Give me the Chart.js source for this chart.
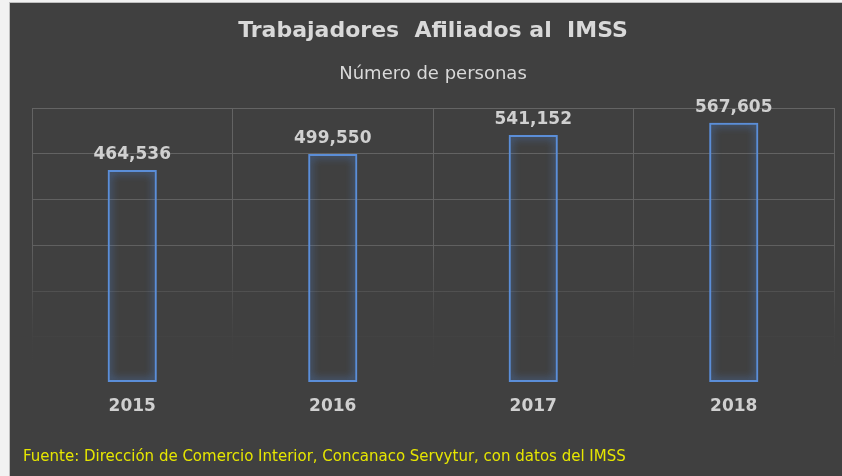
<!DOCTYPE html>
<html>
<head>
<meta charset="utf-8">
<script src="https://cdn.jsdelivr.net/npm/chart.js@4/dist/chart.umd.min.js"></script>
<style>
  html, body { margin: 0; padding: 0; background: #f2f2f2; }
  #wrap { width: 842px; height: 476px; }
</style>
</head>
<body>
<div id="wrap"><canvas id="afiliados"></canvas></div>
<script>
// Data
const years = ['2015', '2016', '2017', '2018'];
const workers = [464536, 499550, 541152, 567605];
const yTicks = [0, 100000, 200000, 300000, 400000, 500000, 600000];

const titleText = 'Trabajadores  Afiliados al  IMSS';
const subtitleText = 'Número de personas';
const sourceText = 'Fuente: Dirección de Comercio Interior, Concanaco Servytur, con datos del IMSS';

const labelFont = 'bold 17px "DejaVu Sans", Verdana, sans-serif';

// dark panel behind the chart, with the light strip on left/top
const panelBackground = {
    id: 'panelBackground',
    beforeDraw(chart) {
        const ctx = chart.ctx;
        ctx.save();
        ctx.fillStyle = '#f2f2f2';
        ctx.fillRect(0, 0, chart.width, chart.height);
        ctx.fillStyle = '#bfbfbf';
        ctx.fillRect(9, 2, chart.width - 9, chart.height - 2);
        ctx.fillStyle = '#404040';
        ctx.fillRect(10, 3, chart.width - 10, chart.height - 3);
        ctx.restore();
    }
};

// soft blue glow around the bar outlines
const barGlow = {
    id: 'barGlow',
    beforeDatasetDraw(chart) {
        const ctx = chart.ctx;
        ctx.save();
        ctx.shadowColor = 'rgba(80, 140, 230, 1)';
        ctx.shadowBlur = 8;
    },
    afterDatasetDraw(chart) {
        chart.ctx.restore();
    }
};

// value labels above each bar
const valueLabels = {
    id: 'valueLabels',
    afterDatasetsDraw(chart) {
        const ctx = chart.ctx;
        const meta = chart.getDatasetMeta(0);
        ctx.save();
        ctx.font = labelFont;
        ctx.fillStyle = '#d0d0d0';
        ctx.textAlign = 'center';
        ctx.textBaseline = 'bottom';
        meta.data.forEach((bar, i) => {
            ctx.fillText(workers[i].toLocaleString('en-US'), bar.x, bar.y - 7);
        });
        ctx.restore();
    }
};

// source note at the bottom
const sourceNote = {
    id: 'sourceNote',
    afterDraw(chart) {
        const ctx = chart.ctx;
        ctx.save();
        ctx.font = '15px "DejaVu Sans", Verdana, sans-serif';
        ctx.fillStyle = '#e6e600';
        ctx.textAlign = 'left';
        ctx.textBaseline = 'alphabetic';
        ctx.fillText(sourceText, 23, 461);
        ctx.restore();
    }
};

function gridColor(context) {
    const area = context.chart.chartArea;
    if (!area) return '#5a5a5a';
    const g = context.chart.ctx.createLinearGradient(0, area.top, 0, area.bottom);
    g.addColorStop(0, 'rgba(100,100,100,1)');
    g.addColorStop(0.5, 'rgba(96,96,96,1)');
    g.addColorStop(0.7, 'rgba(84,84,84,0.7)');
    g.addColorStop(0.85, 'rgba(70,70,70,0.3)');
    g.addColorStop(1, 'rgba(64,64,64,0)');
    return g;
}

new Chart('afiliados', {
    type: 'bar',
    data: {
        labels: years,
        datasets: [{
            data: workers,
            backgroundColor: 'rgba(64,64,64,0)',
            borderColor: '#5b8ed8',
            borderWidth: 2,
            borderSkipped: false,
            barPercentage: 0.245,
            categoryPercentage: 1
        }]
    },
    options: {
        responsive: true,
        maintainAspectRatio: false,
        animation: false,
        layout: { padding: { left: 32, right: 8, top: 0, bottom: 45 } },
        plugins: {
            legend: { display: false },
            tooltip: { enabled: false },
            title: {
                display: true,
                text: titleText,
                color: '#d9d9d9',
                font: { family: '"DejaVu Sans", Verdana, sans-serif', size: 22, weight: 'bold' },
                padding: { top: 18, bottom: 19 }
            },
            subtitle: {
                display: true,
                text: subtitleText,
                color: '#d9d9d9',
                font: { family: '"DejaVu Sans", Verdana, sans-serif', size: 18, weight: 'normal' },
                padding: { top: 0, bottom: 23 }
            }
        },
        scales: {
            x: {
                grid: { color: gridColor, lineWidth: 1, offset: true, drawTicks: false },
                border: { display: false },
                ticks: {
                    color: '#d0d0d0',
                    font: { family: '"DejaVu Sans", Verdana, sans-serif', size: 17, weight: 'bold' },
                    padding: 14
                }
            },
            y: {
                min: yTicks[0],
                max: yTicks[yTicks.length - 1],
                afterBuildTicks(scale) {
                    scale.ticks = yTicks.map(v => ({ value: v }));
                },
                grid: { color: gridColor, lineWidth: 1, drawTicks: false },
                border: { display: false },
                ticks: { display: false }
            }
        }
    },
    plugins: [panelBackground, barGlow, valueLabels, sourceNote]
});
</script>
</body>
</html>
